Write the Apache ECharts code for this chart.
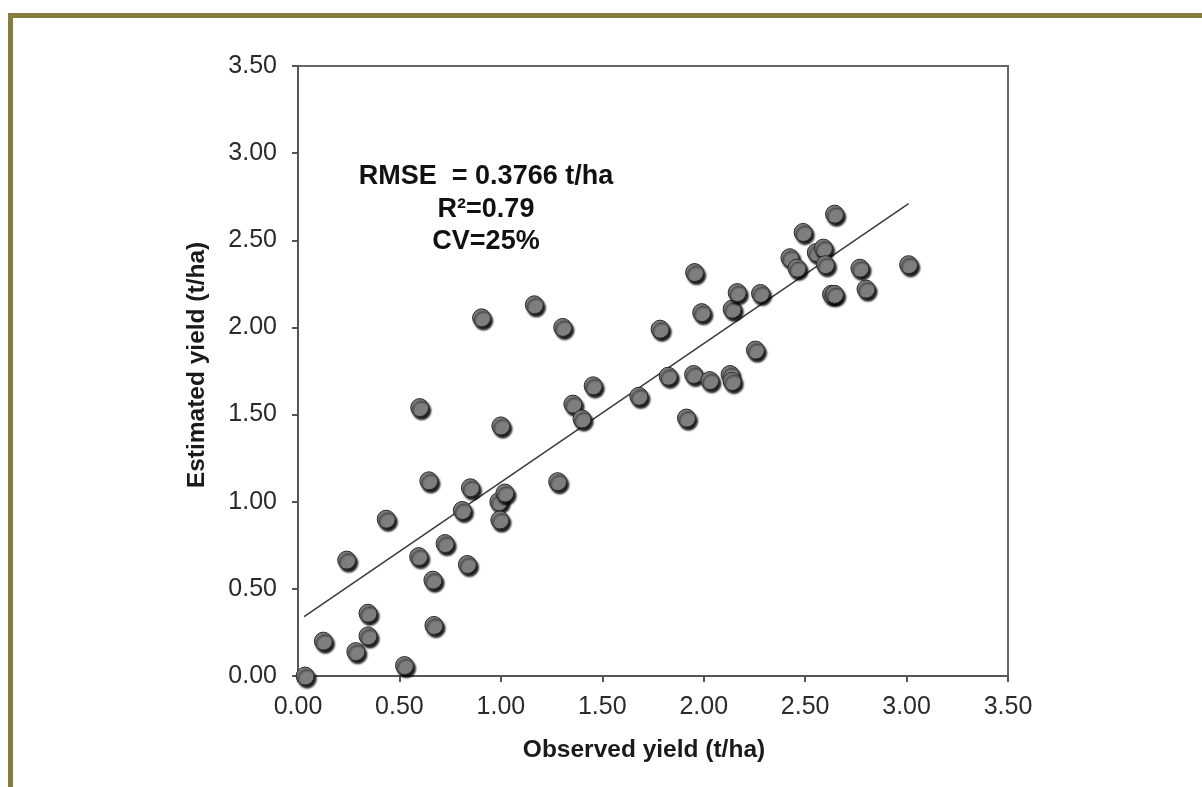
<!DOCTYPE html>
<html>
<head>
<meta charset="utf-8">
<script src="https://cdn.jsdelivr.net/npm/echarts@6/dist/echarts.min.js"></script>
<style>
  html, body { margin: 0; padding: 0; background: #fff; }
  #frame {
    position: absolute; left: 8px; top: 13px; width: 1300px; height: 900px;
    border-top: 5px solid #857c3e; border-left: 5px solid #857c3e;
  }
  #chart { position: absolute; left: 0; top: 0; width: 1202px; height: 787px; }
</style>
</head>
<body>
<div id="frame"></div>
<div id="chart"></div>
<script>
// observed vs estimated yield (t/ha)
const observed = [0.035, 0.125, 0.24, 0.285, 0.345, 0.345, 0.435, 0.525, 0.595, 0.60,
  0.645, 0.665, 0.67, 0.725, 0.81, 0.835, 0.85, 0.905, 0.99, 0.995,
  1.00, 1.02, 1.165, 1.28, 1.305, 1.355, 1.40, 1.455, 1.68, 1.785,
  1.825, 1.915, 1.95, 1.955, 1.99, 2.03, 2.13, 2.14, 2.14, 2.165,
  2.255, 2.28, 2.425, 2.46, 2.49, 2.555, 2.59, 2.60, 2.63, 2.645,
  2.645, 2.77, 2.80, 3.01]
const estimated = [0.00, 0.20, 0.665, 0.14, 0.23, 0.36, 0.90, 0.06, 0.685, 1.54,
  1.12, 0.55, 0.29, 0.76, 0.95, 0.64, 1.08, 2.055, 1.00, 0.895,
  1.435, 1.05, 2.13, 1.115, 2.00, 1.56, 1.475, 1.665, 1.605, 1.99,
  1.72, 1.48, 1.73, 2.315, 2.085, 1.695, 1.73, 1.69, 2.105, 2.20,
  1.87, 2.195, 2.40, 2.34, 2.545, 2.43, 2.455, 2.36, 2.19, 2.19,
  2.65, 2.34, 2.22, 2.36]

// fitted line end points
const fitX = [0.03, 3.01]
const fitY = [0.34, 2.71]

const statsLines = ['RMSE  = 0.3766 t/ha', 'R²=0.79', 'CV=25%']

const chart = echarts.init(document.getElementById('chart'))

const axisCommon = {
  type: 'value',
  min: 0,
  max: 3.5,
  interval: 0.5,
  nameLocation: 'middle',
  nameTextStyle: { fontFamily: 'Liberation Sans', fontWeight: 'bold', fontSize: 24.5, color: '#1a1a1a' },
  axisLine: { show: true, lineStyle: { color: '#555', width: 2 } },
  axisTick: { show: true, inside: false, length: 6, lineStyle: { color: '#555', width: 2 } },
  splitLine: { show: false },
  axisLabel: {
    fontFamily: 'Liberation Sans', fontSize: 25, color: '#2a2a2a',
    formatter: v => v.toFixed(2)
  }
}

const option = {
  backgroundColor: 'transparent',
  animation: false,
  grid: {
    left: 298, top: 66, right: 194, bottom: 111,
    show: true, borderColor: '#666', borderWidth: 2
  },
  xAxis: Object.assign({}, axisCommon, {
    name: 'Observed yield (t/ha)',
    nameGap: 62,
    nameTextStyle: Object.assign({}, axisCommon.nameTextStyle, { padding: [0, 18, 0, 0] }),
    axisLabel: Object.assign({}, axisCommon.axisLabel, { margin: 19 })
  }),
  yAxis: Object.assign({}, axisCommon, {
    name: 'Estimated yield (t/ha)',
    nameGap: 88,
    nameTextStyle: Object.assign({}, axisCommon.nameTextStyle, { padding: [0, 0, 0, 12] }),
    axisLabel: Object.assign({}, axisCommon.axisLabel, { margin: 21 })
  }),
  graphic: statsLines.map((t, i) => ({
    type: 'text',
    x: 486,
    y: 177 + i * 32.5,
    style: {
      text: t,
      fontFamily: 'Liberation Sans', fontWeight: 'bold', fontSize: 27,
      fill: '#111', align: 'center', verticalAlign: 'middle'
    }
  })),
  series: [
    {
      type: 'line',
      data: fitX.map((x, i) => [x, fitY[i]]),
      symbol: 'none',
      lineStyle: { color: '#3a3a3a', width: 1.5 },
      z: 2
    },
    {
      type: 'scatter',
      data: observed.map((x, i) => [x, estimated[i]]),
      symbol: 'circle',
      symbolSize: 18,
      itemStyle: {
        color: '#7e7e7e',
        borderColor: '#2a2a2a',
        borderWidth: 1,
        shadowColor: 'rgba(0,0,0,0.9)',
        shadowBlur: 2,
        shadowOffsetX: 2,
        shadowOffsetY: 3,
        opacity: 1
      },
      z: 3
    }
  ]
}

chart.setOption(option)
</script>
</body>
</html>
